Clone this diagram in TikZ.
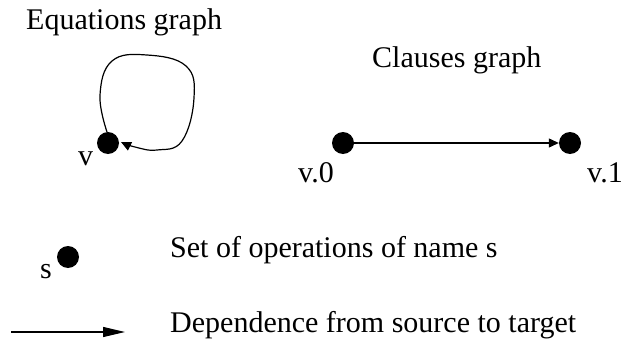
\documentclass[tikz,border=0pt]{standalone}
\usepackage{fontspec}
\setmainfont{Liberation Serif}
\usetikzlibrary{arrows.meta}
\tikzset{
  x=1pt, y=-1pt,
  dot/.style={circle, fill=black, minimum size=22pt, inner sep=0pt},
  lbl/.style={font=\fontsize{30}{36}\selectfont, inner sep=0pt, anchor=base west},
  edge/.style={line width=1.2pt, -{Triangle[length=10pt,width=9pt]}},
}
\begin{document}
\begin{tikzpicture}
\useasboundingbox (0,0) rectangle (622,340);
% titles
\node[lbl] (teq) at (26,30) {Equations graph};
\node[lbl] (tcl) at (372,67) {Clauses graph};
% equations graph
\node[dot] (v) at (108,143) {};
\node[lbl] (lv) at (78,165) {v};
\draw[edge] plot[smooth, tension=0.7] coordinates {(107,132) (100,95) (112,61) (147,55) (186,66) (194,98) (182,141) (157,150) (135,147) (121,142)};
% clauses graph
\node[dot] (v0) at (343,143) {};
\node[dot] (v1) at (570,143) {};
\node[lbl] (lv0) at (298,182) {v.0};
\node[lbl] (lv1) at (587,182) {v.1};
\draw[edge] (v0) -- (v1);
% legend
\node[dot] (s) at (68,257) {};
\node[lbl] (ls) at (40,278) {s};
\node[lbl] (tset) at (170,257) {Set of operations of name s};
\coordinate (a0) at (11,332);
\coordinate (a1) at (125,332);
\draw[line width=1.2pt, -{Triangle[length=22pt,width=10pt]}] (a0) -- (a1);
\node[lbl] (tdep) at (170,332) {Dependence from source to target};
\end{tikzpicture}
\end{document}
